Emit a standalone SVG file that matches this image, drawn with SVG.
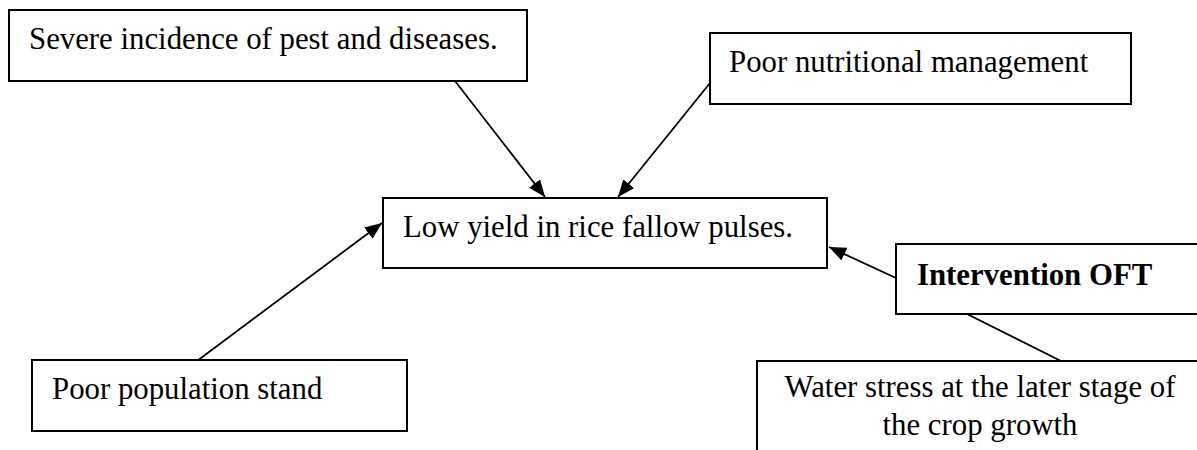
<svg xmlns="http://www.w3.org/2000/svg" width="1197" height="450" viewBox="0 0 1197 450">
<style>
.box{fill:#fff;stroke:#000;stroke-width:2}
.t{font-family:"Liberation Serif","Times New Roman",serif;font-size:30.8px;fill:#000}
.b{font-weight:bold}
.c{stroke:#000;stroke-width:1.8;fill:none}
</style>
<defs>
<marker id="ah" markerUnits="userSpaceOnUse" markerWidth="18" markerHeight="14" refX="17" refY="7" orient="auto">
<path d="M0,0 L17,7 L0,14 z" fill="#000"/>
</marker>
</defs>
<rect width="1197" height="450" fill="#fff"/>
<g id="connectors">
<line class="c" x1="455" y1="81" x2="545" y2="197" marker-end="url(#ah)"/>
<line class="c" x1="710" y1="83" x2="618" y2="197" marker-end="url(#ah)"/>
<line class="c" x1="197" y1="361" x2="382" y2="223" marker-end="url(#ah)"/>
<line class="c" x1="896" y1="278" x2="829" y2="247" marker-end="url(#ah)"/>
<line class="c" x1="967" y1="314" x2="1061" y2="361"/>
</g>
<g id="pest">
<rect class="box" x="9" y="10" width="518" height="71"/>
<text class="t" x="29" y="49">Severe incidence of pest and diseases.</text>
</g>
<g id="nutrition">
<rect class="box" x="710" y="33" width="421" height="71"/>
<text class="t" x="729" y="72">Poor nutritional management</text>
</g>
<g id="lowyield">
<rect class="box" x="383" y="198" width="444" height="70"/>
<text class="t" x="403" y="237">Low yield in rice fallow pulses.</text>
</g>
<g id="population">
<rect class="box" x="32" y="360" width="375" height="71"/>
<text class="t" x="52" y="399">Poor population stand</text>
</g>
<g id="intervention">
<rect class="box" x="896" y="244" width="320" height="70"/>
<text class="t b" x="917" y="285">Intervention OFT</text>
</g>
<g id="water">
<rect class="box" x="757" y="361" width="460" height="110"/>
<text class="t" x="980" y="397" text-anchor="middle">Water stress at the later stage of</text>
<text class="t" x="980" y="435" text-anchor="middle">the crop growth</text>
</g>
</svg>
